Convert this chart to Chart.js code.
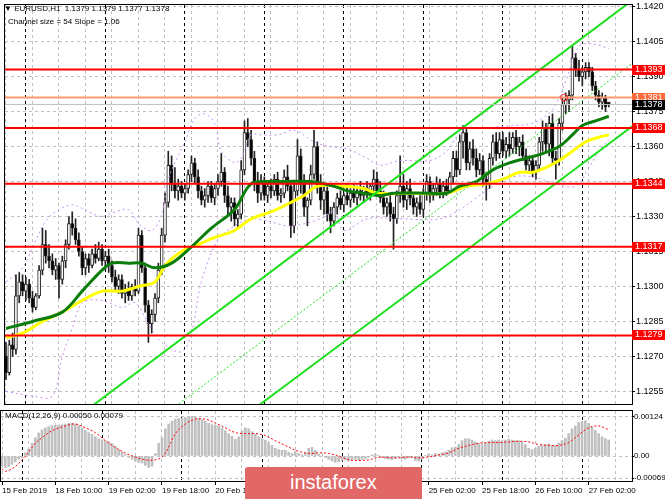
<!DOCTYPE html>
<html lang="en">
<head>
  <meta charset="UTF-8" />
  <title>EURUSD H1</title>
  <script src="https://cdn.jsdelivr.net/npm/chart.js@4"></script>
  <style>
    html, body { margin: 0; padding: 0; background: #fff; }
    #wrap { position: relative; width: 665px; height: 499px; overflow: hidden; font-family: 'Liberation Sans', Arial, sans-serif; }
    canvas { position: absolute; left: 0; }
    #main { top: 0; }
    #macd { top: 408px; }
    .txt { position: absolute; font-size: 8px; line-height: 10px; color: #000; white-space: pre; }
    #logo { position: absolute; left: 245px; top: 467px; width: 177px; height: 34px; background: #e26868; border-radius: 3px; }
    #logo span { position: absolute; left: 45px; top: 4px; font-family: 'Liberation Sans', Arial, sans-serif; font-size: 20px; color: #fff; }
  </style>
</head>
<body>
<div id="wrap">
  <canvas id="main" width="665" height="409"></canvas>
  <canvas id="macd" width="665" height="91"></canvas>
  <div class="txt" style="left:4px;top:4px">▼ EURUSD,H1  1.1379 1.1379 1.1377 1.1378</div>
  <div class="txt" style="left:8px;top:17px">Channel size = 54 Slope = 1.06</div>
  <div class="txt" style="left:5px;top:411px">MACD(12,26,9) 0.00050 0.00079</div>
  <div id="logo"><span>instaforex</span></div>
</div>

<script>
  // H1 candles, 15 Feb 18:00 .. 27 Feb 08:00 (one entry per bar)
  const opens = [
    1.1270,1.1263,1.1275,1.1273,1.1296,1.1302,1.1298,1.1301,1.1295,1.1291,
    1.1296,1.1307,1.1318,1.1313,1.1311,1.1307,1.1309,1.1303,1.1311,1.1318,
    1.1327,1.1325,1.1320,1.1315,1.1308,1.1312,1.1309,1.1314,1.1312,1.1316,
    1.1311,1.1313,1.1309,1.1304,1.1300,1.1303,1.1297,1.1299,1.1296,1.1300,
    1.1298,1.1322,1.1308,1.1292,1.1284,1.1288,1.1295,1.1307,1.1322,1.1336,
    1.1352,1.1344,1.1341,1.1343,1.1340,1.1342,1.1348,1.1353,1.1347,1.1341,
    1.1337,1.1339,1.1343,1.1338,1.1342,1.1345,1.1349,1.1339,1.1334,1.1336,
    1.1329,1.1331,1.1350,1.1366,1.1363,1.1355,1.1344,1.1340,1.1345,1.1339,
    1.1343,1.1341,1.1346,1.1339,1.1340,1.1347,1.1343,1.1326,1.1341,1.1356,
    1.1344,1.1334,1.1337,1.1348,1.1360,1.1343,1.1337,1.1341,1.1331,1.1328,
    1.1334,1.1338,1.1335,1.1339,1.1337,1.1340,1.1338,1.1341,1.1339,1.1342,
    1.1340,1.1343,1.1346,1.1341,1.1338,1.1334,1.1336,1.1331,1.1329,1.1339,
    1.1343,1.1337,1.1342,1.1338,1.1334,1.1336,1.1333,1.1340,1.1345,1.1339,
    1.1342,1.1344,1.1340,1.1343,1.1341,1.1347,1.1355,1.1350,1.1362,1.1366,
    1.1353,1.1359,1.1355,1.1350,1.1354,1.1346,1.1344,1.1355,1.1362,1.1357,
    1.1363,1.1358,1.1361,1.1359,1.1364,1.1360,1.1362,1.1356,1.1352,1.1354,
    1.1349,1.1352,1.1362,1.1368,1.1361,1.1370,1.1355,1.1354,1.1370,1.1378,
    1.1380,1.1382,1.1398,1.1393,1.1390,1.1392,1.1394,1.1392,1.1386,1.1382,
    1.1379,1.1381,1.1379
  ];
  const highs = [
    1.1276,1.1277,1.1280,1.1305,1.1306,1.1305,1.1304,1.1303,1.1298,1.1297,
    1.1309,1.1325,1.1324,1.1318,1.1314,1.1312,1.1310,1.1313,1.1320,1.1330,
    1.1332,1.1329,1.1323,1.1317,1.1314,1.1314,1.1316,1.1318,1.1319,1.1318,
    1.1315,1.1316,1.1311,1.1307,1.1305,1.1305,1.1301,1.1302,1.1301,1.1303,
    1.1325,1.1324,1.1310,1.1294,1.1290,1.1297,1.1310,1.1325,1.1340,1.1358,
    1.1356,1.1351,1.1346,1.1345,1.1344,1.1350,1.1356,1.1355,1.1350,1.1343,
    1.1342,1.1345,1.1345,1.1344,1.1348,1.1357,1.1351,1.1343,1.1338,1.1338,
    1.1333,1.1354,1.1371,1.1372,1.1367,1.1358,1.1349,1.1348,1.1347,1.1345,
    1.1346,1.1348,1.1349,1.1342,1.1350,1.1352,1.1345,1.1345,1.1363,1.1359,
    1.1348,1.1338,1.1352,1.1367,1.1362,1.1348,1.1344,1.1343,1.1334,1.1336,
    1.1340,1.1341,1.1340,1.1344,1.1342,1.1344,1.1343,1.1345,1.1343,1.1345,
    1.1344,1.1350,1.1349,1.1345,1.1341,1.1338,1.1339,1.1334,1.1341,1.1356,
    1.1348,1.1345,1.1346,1.1340,1.1338,1.1339,1.1342,1.1348,1.1347,1.1344,
    1.1347,1.1346,1.1345,1.1346,1.1349,1.1358,1.1358,1.1365,1.1369,1.1368,
    1.1362,1.1363,1.1359,1.1357,1.1356,1.1349,1.1357,1.1365,1.1366,1.1366,
    1.1366,1.1364,1.1366,1.1366,1.1367,1.1364,1.1365,1.1359,1.1356,1.1356,
    1.1354,1.1364,1.1371,1.1370,1.1373,1.1374,1.1358,1.1372,1.1381,1.1383,
    1.1384,1.1403,1.1400,1.1397,1.1394,1.1396,1.1396,1.1394,1.1388,1.1384,
    1.1383,1.1382,1.1379
  ];
  const lows = [
    1.1260,1.1262,1.1270,1.1271,1.1293,1.1296,1.1294,1.1293,1.1289,1.1290,
    1.1295,1.1305,1.1310,1.1308,1.1305,1.1303,1.1295,1.1301,1.1308,1.1316,
    1.1322,1.1318,1.1313,1.1305,1.1305,1.1306,1.1308,1.1310,1.1311,1.1309,
    1.1307,1.1306,1.1302,1.1298,1.1297,1.1295,1.1293,1.1294,1.1294,1.1296,
    1.1297,1.1306,1.1289,1.1276,1.1280,1.1285,1.1293,1.1305,1.1319,1.1334,
    1.1341,1.1338,1.1337,1.1338,1.1337,1.1340,1.1345,1.1344,1.1338,1.1335,
    1.1334,1.1336,1.1336,1.1335,1.1339,1.1343,1.1336,1.1331,1.1328,1.1326,
    1.1325,1.1329,1.1348,1.1360,1.1352,1.1341,1.1336,1.1337,1.1337,1.1336,
    1.1338,1.1339,1.1337,1.1336,1.1338,1.1341,1.1321,1.1323,1.1339,1.1340,
    1.1330,1.1326,1.1335,1.1346,1.1340,1.1333,1.1331,1.1328,1.1323,1.1326,
    1.1331,1.1333,1.1332,1.1335,1.1334,1.1336,1.1335,1.1337,1.1336,1.1338,
    1.1337,1.1340,1.1339,1.1336,1.1331,1.1330,1.1328,1.1316,1.1327,1.1336,
    1.1334,1.1333,1.1335,1.1331,1.1330,1.1331,1.1330,1.1337,1.1336,1.1337,
    1.1339,1.1338,1.1338,1.1339,1.1340,1.1344,1.1347,1.1348,1.1355,1.1350,
    1.1350,1.1352,1.1347,1.1348,1.1343,1.1337,1.1342,1.1352,1.1354,1.1355,
    1.1356,1.1355,1.1356,1.1357,1.1357,1.1356,1.1354,1.1350,1.1349,1.1347,
    1.1346,1.1350,1.1358,1.1358,1.1356,1.1352,1.1346,1.1352,1.1367,1.1374,
    1.1375,1.1380,1.1390,1.1388,1.1386,1.1389,1.1390,1.1384,1.1380,1.1377,
    1.1376,1.1375,1.1377
  ];
  const closes = [
    1.1263,1.1275,1.1273,1.1296,1.1302,1.1298,1.1301,1.1295,1.1291,1.1296,
    1.1307,1.1318,1.1313,1.1311,1.1307,1.1309,1.1303,1.1311,1.1318,1.1327,
    1.1325,1.1320,1.1315,1.1308,1.1312,1.1309,1.1314,1.1312,1.1316,1.1311,
    1.1313,1.1309,1.1304,1.1300,1.1303,1.1297,1.1299,1.1296,1.1300,1.1298,
    1.1322,1.1308,1.1292,1.1284,1.1288,1.1295,1.1307,1.1322,1.1336,1.1352,
    1.1344,1.1341,1.1343,1.1340,1.1342,1.1348,1.1353,1.1347,1.1341,1.1337,
    1.1339,1.1343,1.1338,1.1342,1.1345,1.1349,1.1339,1.1334,1.1336,1.1329,
    1.1331,1.1350,1.1366,1.1363,1.1355,1.1344,1.1340,1.1345,1.1339,1.1343,
    1.1341,1.1346,1.1339,1.1340,1.1347,1.1343,1.1326,1.1341,1.1356,1.1344,
    1.1334,1.1337,1.1348,1.1360,1.1343,1.1337,1.1341,1.1331,1.1328,1.1334,
    1.1338,1.1335,1.1339,1.1337,1.1340,1.1338,1.1341,1.1339,1.1342,1.1340,
    1.1343,1.1346,1.1341,1.1338,1.1334,1.1336,1.1331,1.1329,1.1339,1.1343,
    1.1337,1.1342,1.1338,1.1334,1.1336,1.1333,1.1340,1.1345,1.1339,1.1342,
    1.1344,1.1340,1.1343,1.1341,1.1347,1.1355,1.1350,1.1362,1.1366,1.1353,
    1.1359,1.1355,1.1350,1.1354,1.1346,1.1344,1.1355,1.1362,1.1357,1.1363,
    1.1358,1.1361,1.1359,1.1364,1.1360,1.1362,1.1356,1.1352,1.1354,1.1349,
    1.1352,1.1362,1.1368,1.1361,1.1370,1.1355,1.1354,1.1370,1.1378,1.1380,
    1.1382,1.1398,1.1393,1.1390,1.1392,1.1394,1.1392,1.1386,1.1382,1.1379,
    1.1381,1.1377,1.1378
  ];

  // moving averages (bar index / price)
  const greenMaX = [0,8,17,23,29,32,37,41,45,50,56,62,69,74,80,84,92,99,103,108,113,117,128,133,137,142,147,152,157,162,167,171,174,178,182];
  const greenMaY = [1.1282,1.1285,1.1289,1.1298,1.1307,1.1310,1.1310,1.1310,1.1308,1.1310,1.1317,1.1325,1.1333,1.1344,1.1345,1.1345,1.1345,1.1343,1.1341,1.1340,
                    1.1339,1.1340,1.1340,1.1340,1.1343,1.1345,1.1350,1.1353,1.1355,1.1357,1.1360,1.1365,1.1369,1.1371,1.1373];
  const yellowMaX = [0,5,11,17,23,29,35,40,45,48,53,58,63,69,74,80,86,90,94,102,108,112,122,133,139,145,150,155,159,163,167,171,175,179,182];
  const yellowMaY = [1.1278,1.1280,1.1285,1.1289,1.1294,1.1298,1.1298,1.1300,1.1302,1.1309,1.1315,1.1318,1.1321,1.1324,1.1329,1.1332,1.1336,1.1339,1.1343,1.1343,
                     1.1342,1.1340,1.1340,1.1340,1.1343,1.1344,1.1346,1.1349,1.1349,1.1351,1.1354,1.1358,1.1362,1.1364,1.1365];

  // envelope bands
  const upperBandX = [0,5,9,12,15,20,25,29,33,37,40,44,47,49,54,57,60,63,65,69,71,74,77,82,87,93,98,103,109,113,119,128,133,138,145,153,159,165,169,173,177,182];
  const upperBandY = [1.1302,1.1308,1.1320,1.1328,1.1332,1.1335,1.1332,1.1330,1.1332,1.1333,1.1327,1.1324,1.1331,1.1346,1.1362,1.1372,1.1374,1.1370,1.1358,1.1353,
                      1.1355,1.1365,1.1365,1.1365,1.1367,1.1362,1.1360,1.1359,1.1355,1.1352,1.1354,1.1354,1.1358,1.1367,1.1368,1.1369,1.1370,1.1376,1.1388,1.1403,1.1404,1.1402];
  const lowerBandX = [0,8,14,17,20,23,29,35,39,43,47,53,56,59,64,69,74,79,86,95,99,102,109,119,131,137,142,147,153,159,166,172,176,179,182];
  const lowerBandY = [1.1255,1.1253,1.1253,1.1270,1.1282,1.1293,1.1294,1.1291,1.1293,1.1284,1.1276,1.1272,1.1280,1.1302,1.1320,1.1326,1.1329,1.1328,1.1326,1.1329,
                      1.1332,1.1324,1.1329,1.1329,1.1329,1.1333,1.1338,1.1343,1.1347,1.1347,1.1344,1.1343,1.1351,1.1358,1.1363];

  // regression channel (start / end bar)
  const channelX = [0, 195];
  const channelUpper = [1.1221, 1.1429];
  const channelMid = [1.1194, 1.1402];
  const channelLower = [1.1168, 1.1375];

  // horizontal levels
  const redLevels = [1.1393, 1.1368, 1.1344, 1.1317, 1.1279];
  const orangeLevel = 1.1381;
  const lastPrice = 1.1378;
  const alertBar = 168.5;

  // MACD(12,26,9)
  const macdHist = [
    -0.00030,-0.00036,-0.00033,-0.00026,-0.00018,-0.00010,-0.00006,0.00010,0.00022,0.00040,
    0.00057,0.00072,0.00082,0.00088,0.00092,0.00095,0.00096,0.00097,0.00098,0.00100,
    0.00102,0.00103,0.00100,0.00095,0.00088,0.00080,0.00073,0.00068,0.00060,0.00054,
    0.00050,0.00048,0.00044,0.00038,0.00030,0.00020,0.00012,0.00004,-0.00004,-0.00010,
    -0.00016,-0.00020,-0.00022,-0.00030,-0.00036,-0.00032,0.00008,0.00040,0.00057,0.00085,
    0.00100,0.00109,0.00115,0.00117,0.00118,0.00120,0.00123,0.00124,0.00122,0.00117,
    0.00114,0.00109,0.00102,0.00098,0.00095,0.00094,0.00088,0.00079,0.00070,0.00062,
    0.00052,0.00060,0.00078,0.00088,0.00085,0.00076,0.00068,0.00060,0.00054,0.00050,
    0.00042,0.00033,0.00024,0.00020,0.00018,0.00018,0.00012,0.00008,0.00014,0.00008,
    0.00004,0.00010,0.00024,0.00027,0.00018,0.00006,0.00000,-0.00005,-0.00010,-0.00016,
    -0.00020,-0.00018,-0.00014,-0.00012,-0.00014,-0.00012,-0.00010,-0.00012,-0.00010,-0.00008,
    -0.00004,0.00004,0.00006,0.00002,-0.00004,-0.00008,-0.00010,-0.00012,-0.00008,-0.00004,
    -0.00008,-0.00010,-0.00006,-0.00004,-0.00014,-0.00016,-0.00010,0.00002,0.00006,0.00004,
    0.00008,0.00006,0.00010,0.00012,0.00018,0.00026,0.00028,0.00036,0.00048,0.00054,
    0.00054,0.00050,0.00044,0.00040,0.00036,0.00040,0.00046,0.00050,0.00048,0.00050,
    0.00048,0.00050,0.00052,0.00050,0.00048,0.00048,0.00044,0.00036,0.00024,0.00020,
    0.00024,0.00030,0.00034,0.00036,0.00038,0.00034,0.00032,0.00040,0.00048,0.00056,
    0.00070,0.00085,0.00094,0.00104,0.00108,0.00110,0.00102,0.00090,0.00080,0.00070,
    0.00060,0.00054,0.00050
  ];
  const signalX = [0,1,4,6,8,10,12,15,19,22,25,28,31,34,37,40,43,46,48,50,52,55,58,61,64,67,70,73,76,79,82,85,88,92,95,98,101,104,107,110,
                   113,116,119,122,125,128,131,134,137,140,143,146,149,152,155,158,161,164,167,170,173,176,179,182];
  const signalY = [-0.00040,-0.00048,-0.00033,-0.00012,0.00012,0.00040,0.00057,0.00079,0.00094,0.00100,
                   0.00088,0.00073,0.00048,0.00027,0.00009,-0.00003,-0.00012,-0.00012,-0.00003,0.00027,
                   0.00070,0.00100,0.00115,0.00115,0.00103,0.00088,0.00073,0.00070,0.00070,0.00064,
                   0.00048,0.00033,0.00018,0.00008,0.00010,0.00008,0.00000,-0.00012,-0.00014,-0.00012,
                   -0.00004,-0.00005,-0.00006,-0.00003,-0.00006,-0.00003,0.00003,0.00010,0.00024,0.00033,
                   0.00040,0.00042,0.00042,0.00044,0.00046,0.00044,0.00036,0.00033,0.00033,0.00042,
                   0.00066,0.00088,0.00094,0.00082];

  // axes
  const priceTicks = [1.1255,1.1270,1.1285,1.1300,1.1315,1.1330,1.1345,1.1360,1.1375,1.1390,1.1405,1.1420];
  const macdTicks = [-0.00069, 0, 0.00124];
  const xLabelIdx = [0,16,32,48,64,80,96,112,128,144,160,176];
  const xLabels = ['15 Feb 2019','18 Feb 10:00','19 Feb 02:00','19 Feb 18:00','20 Feb 10:00','21 Feb 02:00',
                   '21 Feb 18:00','22 Feb 10:00','25 Feb 02:00','25 Feb 18:00','26 Feb 10:00','27 Feb 02:00'];
  const gridIdx = [0,8,16,24,32,40,48,56,64,72,80,88,96,104,112,120,128,136,144,152,160,168,176,184];
  const dayIdx = [6,30,54,78,102,126,150,174];

  const FONT = '"Liberation Sans", Arial, sans-serif';
  const pts = (xs, ys) => xs.map((x, k) => ({ x, y: ys[k] }));
  const xTicks = [...gridIdx, ...dayIdx].sort((a, b) => a - b);
  const labelOf = {};
  xLabelIdx.forEach((v, k) => labelOf[v] = xLabels[k]);
  const gridCol = c => dayIdx.includes(c.tick && c.tick.value) ? '#000' : '#c0c0c0';

  // black frame round each panel
  const frame = {
    id: 'frame',
    afterDraw(chart) {
      const { ctx, chartArea: a } = chart;
      ctx.save();
      ctx.strokeStyle = '#000';
      ctx.lineWidth = 1;
      ctx.strokeRect(a.left - 0.5, a.top - 0.5, a.right - a.left + 1, a.bottom - a.top + 1);
      ctx.restore();
    }
  };

  // coloured price tags on the right scale
  const tagLevels = [...redLevels, orangeLevel, lastPrice];
  const tagColors = ['#ff0000','#ff0000','#ff0000','#ff0000','#ff0000','#ff6a3a','#000000'];
  const tags = {
    id: 'tags',
    afterDraw(chart) {
      const { ctx } = chart;
      const ys = chart.scales.y;
      ctx.save();
      ctx.font = '9px ' + FONT;
      ctx.textBaseline = 'middle';
      tagLevels.forEach((v, k) => {
        const py = Math.round(ys.getPixelForValue(v));
        ctx.fillStyle = tagColors[k];
        ctx.fillRect(ys.left, py - 5, 33, 10);
        ctx.fillStyle = '#fff';
        ctx.fillText(v.toFixed(4), ys.left + 3, py);
      });
      ctx.restore();
    }
  };

  const flat = (v, color, width) => ({
    type: 'line', data: [{ x: -1, y: v }, { x: 200, y: v }], borderColor: color, borderWidth: width,
    pointRadius: 0, order: 1, clip: 0
  });
  const lineDs = (xs, ys, color, width, dash, order) => ({
    type: 'line', data: pts(xs, ys), borderColor: color, borderWidth: width, borderDash: dash || [],
    pointRadius: 0, tension: 0.35, order, clip: 0
  });

  new Chart(document.getElementById('main'), {
    type: 'bar',
    data: {
      datasets: [
        flat(lastPrice, '#c0c0c0', 1),
        flat(orangeLevel, '#ff9a70', 2),
        ...redLevels.map(v => flat(v, '#ff0000', 2)),
        lineDs(channelX, channelUpper, '#1ee01e', 2, null, 2),
        lineDs(channelX, channelMid, '#1ee01e', 1, [2, 2], 2),
        lineDs(channelX, channelLower, '#1ee01e', 2, null, 2),
        lineDs(greenMaX, greenMaY, '#0a7d0a', 3, null, 3),
        lineDs(yellowMaX, yellowMaY, '#ffff00', 3, null, 4),
        lineDs(upperBandX, upperBandY, '#c68ef0', 1, [2, 3], 5),
        lineDs(lowerBandX, lowerBandY, '#c68ef0', 1, [2, 3], 5),
        {
          type: 'line', data: [{ x: alertBar, y: orangeLevel }], showLine: false, order: 0,
          pointRadius: 3.5, pointBorderColor: '#ff3030', pointBackgroundColor: 'rgba(0,0,0,0)', pointBorderWidth: 1
        },
        {
          data: opens.map((o, i) => ({ x: i, y: [o, closes[i]] })),
          backgroundColor: opens.map((o, i) => closes[i] >= o ? '#ffffff' : '#000000'),
          borderColor: '#222', borderWidth: 1, borderSkipped: false,
          barThickness: 3, minBarLength: 1, grouped: false, order: 9
        },
        {
          data: opens.map((o, i) => ({ x: i, y: [lows[i], highs[i]] })),
          backgroundColor: '#222', barThickness: 1, grouped: false, order: 10
        }
      ]
    },
    options: {
      responsive: false, animation: false, devicePixelRatio: 1, events: [],
      layout: { padding: { left: 1, right: 0, top: 2, bottom: 2 } },
      plugins: { legend: { display: false }, tooltip: { enabled: false } },
      scales: {
        x: {
          type: 'linear', min: -0.3, max: 189, offset: false,
          afterBuildTicks: s => { s.ticks = xTicks.map(v => ({ value: v })); },
          afterFit: s => { s.height = 0; s.paddingLeft = 0; s.paddingRight = 0; },
          ticks: { display: false },
          grid: { offset: false, color: gridCol, drawTicks: false },
          border: { display: false, dash: [3, 3] }
        },
        y: {
          position: 'right', min: 1.12496, max: 1.14207,
          afterBuildTicks: s => { s.ticks = priceTicks.map(v => ({ value: v })); },
          afterFit: s => { s.width = 33; s.paddingTop = 0; s.paddingBottom = 0; },
          ticks: { color: '#000', font: { family: FONT, size: 9 }, padding: 1, callback: v => v.toFixed(4) },
          grid: { color: '#c0c0c0', tickColor: '#000', tickLength: 3 },
          border: { display: false, dash: [3, 3] }
        }
      }
    },
    plugins: [frame, tags]
  });

  new Chart(document.getElementById('macd'), {
    type: 'bar',
    data: {
      datasets: [
        {
          type: 'line', data: pts(signalX, signalY), borderColor: '#ff0000', borderWidth: 1,
          borderDash: [2, 2], pointRadius: 0, tension: 0.35, order: 0
        },
        {
          data: macdHist.map((v, i) => ({ x: i, y: v })),
          backgroundColor: '#c0c0c0', barThickness: 2, order: 1
        }
      ]
    },
    options: {
      responsive: false, animation: false, devicePixelRatio: 1, events: [],
      layout: { padding: { left: 1, right: 0, top: 3, bottom: 0 } },
      plugins: { legend: { display: false }, tooltip: { enabled: false } },
      scales: {
        x: {
          type: 'linear', min: -0.3, max: 189, offset: false,
          afterBuildTicks: s => { s.ticks = xTicks.map(v => ({ value: v })); },
          afterFit: s => { s.height = 18; s.paddingLeft = 0; s.paddingRight = 0; },
          ticks: {
            autoSkip: false, maxRotation: 0, align: 'start', padding: 1, color: '#000',
            font: { family: FONT, size: 8 }, callback: v => labelOf[v] || ''
          },
          grid: {
            offset: false, color: gridCol, tickLength: 4,
            tickColor: c => labelOf[c.tick && c.tick.value] ? '#000' : 'rgba(0,0,0,0)'
          },
          border: { display: false, dash: [3, 3] }
        },
        y: {
          position: 'right', min: -0.000781, max: 0.001406,
          afterBuildTicks: s => { s.ticks = macdTicks.map(v => ({ value: v })); },
          afterFit: s => { s.width = 33; s.paddingTop = 0; s.paddingBottom = 0; },
          ticks: {
            color: '#000', font: { family: FONT, size: 8 }, padding: 0,
            callback: v => v === 0 ? '0.00' : v.toFixed(5)
          },
          grid: { color: '#c0c0c0', tickColor: '#000', tickLength: 2 },
          border: { display: false, dash: [3, 3] }
        }
      }
    },
    plugins: [frame]
  });
</script>
</body>
</html>
